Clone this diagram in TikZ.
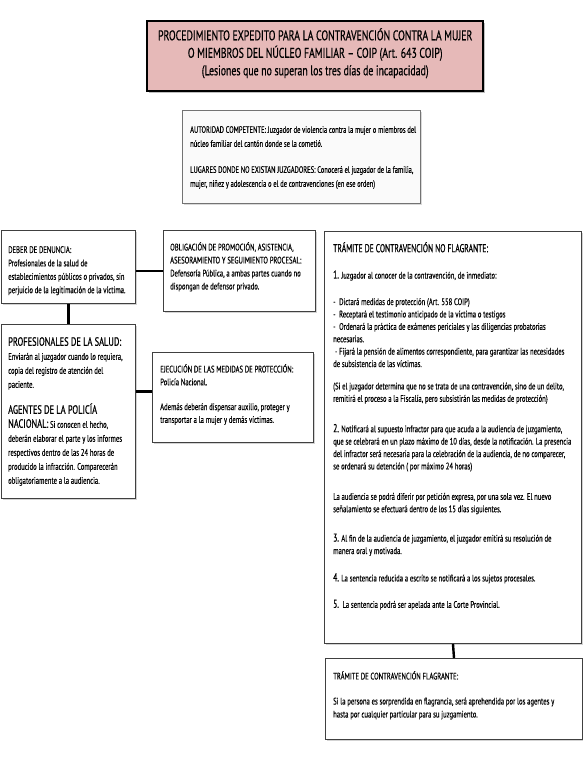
\documentclass[tikz,border=0pt]{standalone}
\usepackage{fontspec}
\setmainfont{PT Sans}[FakeStretch=0.70, FakeBold=0.2]
\newfontfamily\headfont{PT Sans}[FakeStretch=0.66, FakeBold=0.6]
\newfontfamily\leftheadfont{PT Sans}[FakeStretch=0.70, FakeBold=0.6]
\newfontfamily\titlefont{PT Sans}[FakeStretch=0.70, FakeBold=0.6]
\usetikzlibrary{shadows}
\definecolor{titlepink}{HTML}{E6B9B8}
\newcommand{\bodyfs}{\fontsize{9.5}{12.4}\selectfont}
\newcommand{\headfs}{\headfont\fontsize{11.5}{14}\selectfont}
\newcommand{\lheadfs}{\leftheadfont\fontsize{12}{14}\selectfont}
\begin{document}
\begin{tikzpicture}[x=1pt,y=-1pt,
  box/.style={draw=black!75, line width=1pt, fill=white, inner sep=0pt, anchor=north west,
    drop shadow={shadow xshift=1.5pt, shadow yshift=-1.5pt, opacity=0.35}},
  titlebox/.style={draw=black, line width=2.4pt, fill=titlepink, inner sep=0pt, anchor=north west,
    drop shadow={shadow xshift=2pt, shadow yshift=-2pt, opacity=0.5}},
  authbox/.style={draw=black!55, line width=1pt, fill=gray!4, inner sep=0pt, anchor=north west,
    drop shadow={shadow xshift=1.5pt, shadow yshift=-1.5pt, opacity=0.3}},
  txt/.style={anchor=north west, align=left, inner sep=0pt, font=\bodyfs},
  conn/.style={line width=2.4pt, black}]
\useasboundingbox (0,0) rectangle (583,766);

% title
\node[titlebox, minimum width=336pt, minimum height=70pt] (title) at (146,20) {};
\node[align=center, inner sep=0pt, font=\titlefont\fontsize{14}{17.5}\selectfont] (titleT) at ([yshift=3pt]title.center)
  {PROCEDIMIENTO EXPEDITO PARA LA CONTRAVENCIÓN CONTRA LA MUJER\\
   O MIEMBROS DEL NÚCLEO FAMILIAR – COIP (Art. 643 COIP)\\
   (Lesiones que no superan los tres días de incapacidad)};

% autoridad
\node[authbox, minimum width=238pt, minimum height=93pt] (auth) at (182,110) {};
\node[txt, font=\fontsize{9.3}{14}\selectfont] (authT) at (190,126)
  {AUTORIDAD COMPETENTE: Juzgador de violencia contra la mujer o miembros del\\
   núcleo familiar del cantón donde se la cometió.\\[12pt]
   LUGARES DONDE NO EXISTAN JUZGADORES: Conocerá el juzgador de la familia,\\
   mujer, niñez y adolescencia o el de contravenciones (en ese orden)};

% deber de denuncia
\node[box, minimum width=134pt, minimum height=73pt] (deber) at (1,230) {};
\node[txt, font=\fontsize{9.5}{13.4}\selectfont] (deberT) at (8,246)
  {DEBER DE DENUNCIA:\\
   Profesionales de la salud de\\
   establecimientos públicos o privados, sin\\
   perjuicio de la legitimación de la víctima.};

% obligacion
\node[box, minimum width=152pt, minimum height=81pt] (oblig) at (163,230) {};
\node[txt, font=\fontsize{9.5}{13}\selectfont] (obligT) at (170,242)
  {OBLIGACIÓN DE PROMOCIÓN, ASISTENCIA,\\
   ASESORAMIENTO Y SEGUIMIENTO PROCESAL:\\
   Defensoría Pública, a ambas partes cuando no\\
   dispongan de defensor privado.};

% profesionales
\node[box, minimum width=134pt, minimum height=174pt] (prof) at (1,324) {};
\node[txt, font=\fontsize{9.5}{14}\selectfont] (profT) at (8,337)
  {{\lheadfs PROFESIONALES DE LA SALUD:}\\
   Enviarán al juzgador cuando lo requiera,\\
   copia del registro de atención del\\
   paciente.\\[12pt]
   {\lheadfs AGENTES DE LA POLICÍA}\\
   {\lheadfs NACIONAL:} Si conocen el hecho,\\
   deberán elaborar el parte y los informes\\
   respectivos dentro de las 24 horas de\\
   producido la infracción. Comparecerán\\
   obligatoriamente a la audiencia.};

% ejecucion
\node[box, minimum width=161pt, minimum height=90pt] (ejec) at (152,352) {};
\node[txt, font=\fontsize{9.5}{12.8}\selectfont] (ejecT) at (160,364)
  {EJECUCIÓN DE LAS MEDIDAS DE PROTECCIÓN:\\
   Policía Nacional.\\[12pt]
   Además deberán dispensar auxilio, proteger y\\
   transportar a la mujer y demás víctimas.};

% tramite no flagrante
\node[box, minimum width=257pt, minimum height=412pt] (tram) at (324,231) {};
\node[txt] (tramT) at (333,242)
  {{\headfs TRÁMITE DE CONTRAVENCIÓN NO FLAGRANTE:}\\[14pt]
   {\headfs 1.} Juzgador al conocer de la contravención, de inmediato:\\[14pt]
   -\ \ Dictará medidas de protección (Art. 558 COIP)\\
   -\ \ Receptará el testimonio anticipado de la víctima o testigos\\
   -\ \ Ordenará la práctica de exámenes periciales y las diligencias probatorias\\
   necesarias.\\
   \ -\ Fijará la pensión de alimentos correspondiente, para garantizar las necesidades\\
   de subsistencia de las víctimas.\\[10pt]
   (Si el juzgador determina que no se trata de una contravención, sino de un delito,\\
   remitirá el proceso a la Fiscalía, pero subsistirán las medidas de protección)\\[18pt]
   {\headfs 2.} Notificará al supuesto infractor para que acuda a la audiencia de juzgamiento,\\
   que se celebrará en un plazo máximo de 10 días, desde la notificación. La presencia\\
   del infractor será necesaria para la celebración de la audiencia, de no comparecer,\\
   se ordenará su detención ( por máximo 24 horas)\\[18pt]
   La audiencia se podrá diferir por petición expresa, por una sola vez. El nuevo\\
   señalamiento se efectuará dentro de los 15 días siguientes.\\[17pt]
   {\headfs 3.} Al fin de la audiencia de juzgamiento, el juzgador emitirá su resolución de\\
   manera oral y motivada.\\[15pt]
   {\headfs 4.} La sentencia reducida a escrito se notificará a los sujetos procesales.\\[14pt]
   {\headfs 5.}\ \ La sentencia podrá ser apelada ante la Corte Provincial.};

% tramite flagrante
\node[box, minimum width=257pt, minimum height=81pt] (flag) at (325,658) {};
\node[txt, font=\fontsize{9.5}{13}\selectfont] (flagT) at (333,671)
  {TRÁMITE DE CONTRAVENCIÓN FLAGRANTE:\\[12pt]
   Si la persona es sorprendida en flagrancia, será aprehendida por los agentes y\\
   hasta por cualquier particular para su juzgamiento.};

% connectors
\draw[conn] (oblig.west) -- (oblig.west -| deber.east);
\draw[conn] (deber.south) -- (prof.north);
\coordinate (c1) at ([yshift=6pt]ejec.west);
\draw[conn] (c1) -- (c1 -| prof.east);
\draw[conn] (tram.south) -- (flag.north);
\end{tikzpicture}
\end{document}
